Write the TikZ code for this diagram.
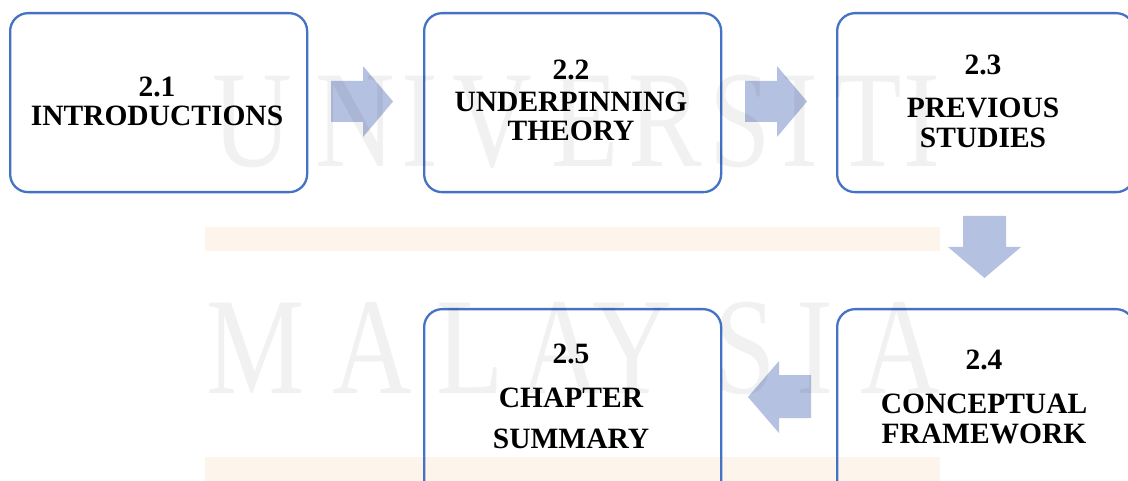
\documentclass[tikz,border=0pt]{standalone}
\usepackage{fontspec}
\setmainfont{Liberation Serif}
\definecolor{boxblue}{HTML}{4472C4}
\definecolor{arrowblue}{HTML}{B4C1E1}
\definecolor{barorange}{HTML}{FDF4EB}
\begin{document}
\begin{tikzpicture}[x=1pt,y=-1pt,
  box/.style={draw=boxblue, line width=2.3pt, rounded corners=18pt, minimum width=297pt, minimum height=179pt, inner sep=0pt, anchor=north west},
  lbl/.style={anchor=base, font=\fontsize{29.5}{31}\selectfont\bfseries, inner sep=0pt},
  blk/.style={fill=arrowblue, draw=none},
  wm/.style={anchor=base, font=\fontsize{138}{138}\selectfont, text=black, text opacity=0.055, inner sep=0pt, xscale=0.8},
  bar/.style={fill=barorange, draw=none}]
\useasboundingbox (0,0) rectangle (1128,481);
\clip (0,0) rectangle (1128,481);
\fill[white] (0,0) rectangle (1128,481);
% watermark bars
\fill[bar] (205,227) rectangle (940,251);
\fill[bar] (205,457) rectangle (940,481);
% boxes
\node[box] (b1) at (9,12) {};
\node[box] (b2) at (423,12) {};
\node[box] (b3) at (836,12) {};
\node[box, minimum height=220pt] (b4) at (836,308) {};
\node[box, minimum height=220pt] (b5) at (423,308) {};
% block arrows
\fill[blk] (331,81) -- (363,81) -- (363,66) -- (393,101.5) -- (363,137) -- (363,122) -- (331,122) -- cycle;
\fill[blk] (745,81) -- (777,81) -- (777,66) -- (807,101.5) -- (777,137) -- (777,122) -- (745,122) -- cycle;
\fill[blk] (963,216) -- (1006,216) -- (1006,247) -- (1021,247) -- (984.5,278) -- (948,247) -- (963,247) -- cycle;
\fill[blk] (811,375) -- (811,418) -- (779,418) -- (779,433) -- (748,397) -- (779,361) -- (779,375) -- cycle;
% labels
\node[lbl] (t1a) at (157,97) {2.1};
\node[lbl] (t1b) at (157,126) {INTRODUCTIONS};
\node[lbl] (t2a) at (571,80) {2.2};
\node[lbl] (t2b) at (571,112) {UNDERPINNING};
\node[lbl] (t2c) at (571,141) {THEORY};
\node[lbl] (t3a) at (983,75) {2.3};
\node[lbl] (t3b) at (983,118) {PREVIOUS};
\node[lbl] (t3c) at (983,148) {STUDIES};
\node[lbl] (t4a) at (984,370) {2.4};
\node[lbl] (t4b) at (984,413) {CONCEPTUAL};
\node[lbl] (t4c) at (984,443) {FRAMEWORK};
\node[lbl] (t5a) at (571,363) {2.5};
\node[lbl] (t5b) at (571,407) {CHAPTER};
\node[lbl] (t5c) at (571,448) {SUMMARY};
% watermark letters
\node[wm] (w1) at (252,167) {U};
\node[wm] (w2) at (355,167) {N};
\node[wm] (w3) at (420,167) {I};
\node[wm] (w4) at (492,167) {V};
\node[wm] (w5) at (585,167) {E};
\node[wm] (w6) at (665,167) {R};
\node[wm] (w7) at (740,167) {S};
\node[wm] (w8) at (800,167) {I};
\node[wm] (w9) at (868,167) {T};
\node[wm] (w10) at (922,167) {I};
\node[wm] (m1) at (256,393) {M};
\node[wm] (m2) at (372,393) {A};
\node[wm] (m3) at (470,393) {L};
\node[wm] (m4) at (560,393) {A};
\node[wm] (m5) at (632,393) {Y};
\node[wm] (m6) at (745,393) {S};
\node[wm] (m7) at (815,393) {I};
\node[wm] (m8) at (900,393) {A};
\end{tikzpicture}
\end{document}
